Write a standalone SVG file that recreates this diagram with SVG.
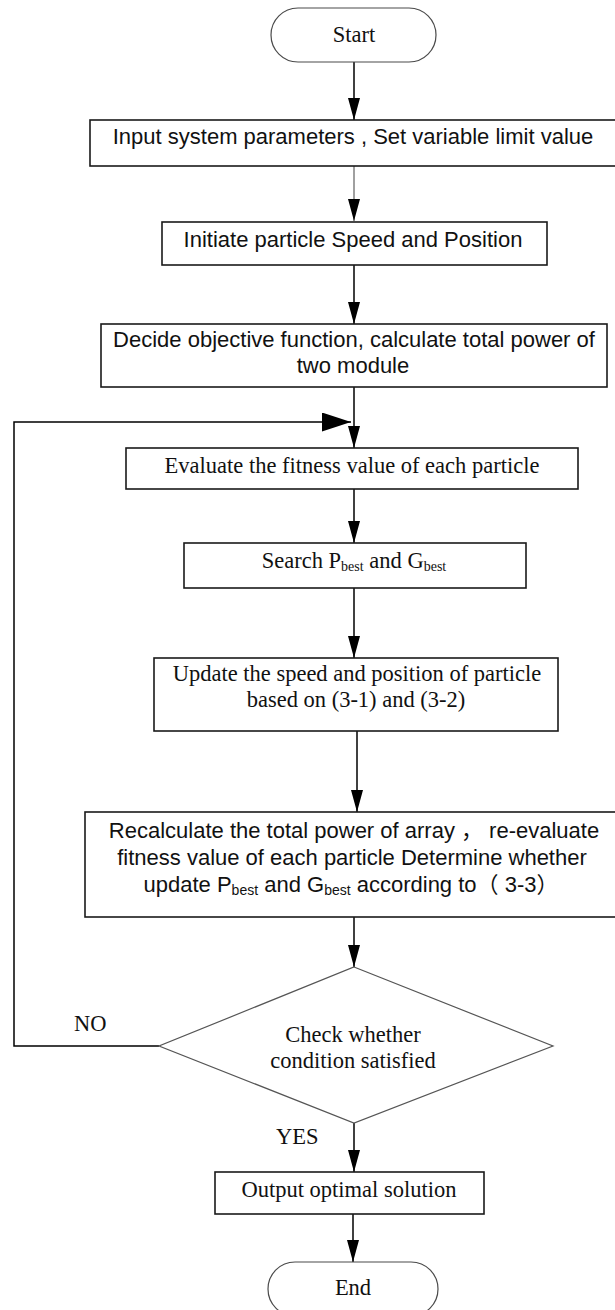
<svg xmlns="http://www.w3.org/2000/svg" width="615" height="1310" viewBox="0 0 615 1310">
  <style>
    .box{fill:#fff;stroke:#1a1a1a;stroke-width:1.6}
    .term{fill:#fff;stroke:#4a4a4a;stroke-width:1.2}
    .dia{fill:#fff;stroke:#555;stroke-width:1.2}
    .sans{font-family:"Liberation Sans",Arial,"Noto Sans CJK SC",sans-serif;font-size:22px;fill:#111}
    .serif{font-family:"Liberation Serif","Times New Roman",serif;font-size:22.5px;fill:#111}
    .c{text-anchor:middle}
    .sub{font-size:14px}
    .line{stroke:#000;stroke-width:1.5;fill:none}
    .grey{stroke:#a0a0a0;stroke-width:2;fill:none}
  </style>
  <defs>
    <marker id="arrow" markerUnits="userSpaceOnUse" markerWidth="22" markerHeight="12" refX="22" refY="6" orient="auto">
      <path d="M0,0 L22,6 L0,12 Z" fill="#000"/>
    </marker>
    <marker id="arrowBig" markerUnits="userSpaceOnUse" markerWidth="29" markerHeight="19" refX="29" refY="9.5" orient="auto">
      <path d="M0,0 L29,9.5 L0,19 Z" fill="#000"/>
    </marker>
  </defs>

  <!-- connectors -->
  <g id="connectors">
    <path class="line" d="M354,62 V120" marker-end="url(#arrow)"/>
    <path class="grey" d="M354,166 V221" marker-end="url(#arrow)"/>
    <path class="line" d="M354,265 V324" marker-end="url(#arrow)"/>
    <path class="line" d="M354,387 V448" marker-end="url(#arrow)"/>
    <path class="line" d="M354,489 V543" marker-end="url(#arrow)"/>
    <path class="line" d="M354,588 V658" marker-end="url(#arrow)"/>
    <path class="line" d="M357,731 V812" marker-end="url(#arrow)"/>
    <path class="line" d="M354,917 V967" marker-end="url(#arrow)"/>
    <path class="line" d="M354,1123 V1172" marker-end="url(#arrow)"/>
    <path class="line" d="M353,1214 V1262" marker-end="url(#arrow)"/>
    <path class="line" d="M159,1046 H14 V422 H351" marker-end="url(#arrowBig)"/>
    <text class="serif" x="74" y="1031">NO</text>
    <text class="serif" x="276" y="1144">YES</text>
  </g>

  <g id="start">
    <rect class="term" x="271" y="8" width="165" height="54" rx="27"/>
    <text class="serif c" x="354" y="42">Start</text>
  </g>

  <g id="input-params">
    <rect class="box" x="90" y="120" width="540" height="46"/>
    <text class="sans c" x="353" y="144">Input system parameters , Set variable limit value</text>
  </g>

  <g id="init-particles">
    <rect class="box" x="162" y="222" width="385" height="43"/>
    <text class="sans c" x="353" y="247">Initiate particle Speed and Position</text>
  </g>

  <g id="objective">
    <rect class="box" x="101" y="324" width="506" height="63"/>
    <text class="sans c" x="354" y="347">Decide objective function, calculate total power of</text>
    <text class="sans c" x="353" y="373">two module</text>
  </g>

  <g id="evaluate">
    <rect class="box" x="126" y="448" width="452" height="41"/>
    <text class="serif c" x="352" y="473">Evaluate the fitness value of each particle</text>
  </g>

  <g id="search-best">
    <rect class="box" x="184" y="543" width="342" height="45"/>
    <text class="serif c" x="354" y="568">Search P<tspan class="sub" dy="3">best</tspan><tspan dy="-3"> and G</tspan><tspan class="sub" dy="3">best</tspan></text>
  </g>

  <g id="update-particles">
    <rect class="box" x="154" y="658" width="404" height="73"/>
    <text class="serif c" x="357" y="681">Update the speed and position of particle</text>
    <text class="serif c" x="356" y="707">based on (3-1) and (3-2)</text>
  </g>

  <g id="recalculate">
    <rect class="box" x="85" y="812" width="545" height="105"/>
    <text class="sans c" x="354" y="838">Recalculate the total power of array ， re-evaluate</text>
    <text class="sans c" x="352" y="865">fitness value of each particle Determine whether</text>
    <text class="sans c" x="351" y="892">update P<tspan class="sub" dy="3">best</tspan><tspan dy="-3"> and G</tspan><tspan class="sub" dy="3">best</tspan><tspan dy="-3"> according to（ 3-3）</tspan></text>
  </g>

  <g id="check-condition">
    <polygon class="dia" points="354,967 553,1046 354,1123 159,1046"/>
    <text class="serif c" x="353" y="1042">Check whether</text>
    <text class="serif c" x="353" y="1068">condition satisfied</text>
  </g>

  <g id="output">
    <rect class="box" x="215" y="1172" width="269" height="42"/>
    <text class="serif c" x="349" y="1197">Output optimal solution</text>
  </g>

  <g id="end">
    <rect class="term" x="268" y="1262" width="170" height="54" rx="27"/>
    <text class="serif c" x="353" y="1295">End</text>
  </g>
</svg>
